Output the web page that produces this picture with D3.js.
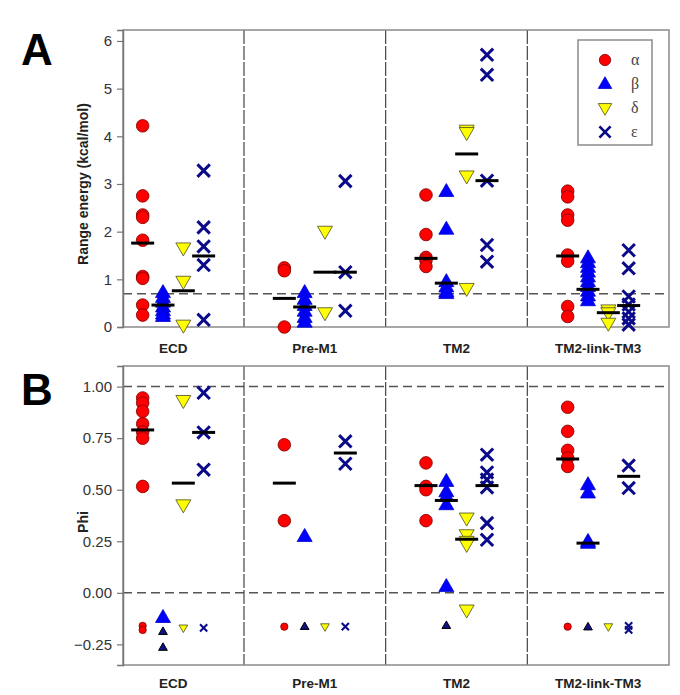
<!DOCTYPE html>
<html><head><meta charset="utf-8">
<script src="https://cdn.jsdelivr.net/npm/d3@7/dist/d3.min.js"></script>
<style>body{margin:0;background:#fff;}svg{display:block;font-family:Arial,"Liberation Sans",sans-serif;}</style>
</head><body><svg id="c" width="680" height="695"></svg>
<script>
const categories = ["ECD", "Pre-M1", "TM2", "TM2-link-TM3"];
const seriesNames = ["α", "β", "δ", "ε"];

// Panel A: range energy (kcal/mol), one list per category
const energyAlpha = [[4.22,2.75,2.35,2.30,1.82,1.06,1.02,0.46,0.25],[1.24,1.18,0.0],[2.77,1.94,1.46,1.40,1.27],[2.85,2.73,2.35,2.24,1.51,1.38,0.43,0.22]];
const energyBeta  = [[0.72,0.62,0.52,0.42,0.34,0.27,0.22],[0.72,0.58,0.45,0.33,0.20,0.10],[2.84,2.05,0.95,0.84,0.74,0.70],[1.45,1.35,1.25,1.15,1.05,0.95,0.85,0.75,0.65,0.55]];
const energyDelta = [[1.66,0.96,0.04],[2.01,0.30],[4.13,4.08,3.17,0.81],[0.36,0.30,0.08]];
const energyEps   = [[3.28,2.09,1.69,1.30,0.15],[3.06,1.15,0.34],[5.71,5.29,3.07,1.72,1.37],[1.61,1.23,0.64,0.47,0.32,0.18,0.05]];
const energyBarAlpha = [1.76,0.60,1.44,1.49];
const energyBarBeta  = [0.46,0.42,0.92,0.79];
const energyBarDelta = [0.76,1.15,3.63,0.30];
const energyBarEps   = [1.49,1.15,3.07,0.45];
const energyThreshold = 0.7;
const energyTicks = [0,1,2,3,4,5,6];

// Panel B: Phi
const phiAlpha = [[0.945,0.92,0.88,0.82,0.78,0.75,0.516],[0.718,0.35],[0.63,0.516,0.50,0.35],[0.90,0.783,0.691,0.654,0.613]];
const phiBeta  = [[-0.12],[0.273],[0.54,0.49,0.467,0.427,0.03],[0.524,0.484,0.249,0.24]];
const phiDelta = [[0.933,0.427],[],[0.363,0.282,0.25,0.235,-0.083],[]];
const phiEps   = [[0.97,0.778,0.597],[0.735,0.626],[0.67,0.584,0.549,0.511,0.338,0.257],[0.617,0.508]];
const phiBarAlpha = [0.79,0.532,0.52,0.649];
const phiBarBeta  = [null,null,0.448,0.241];
const phiBarDelta = [0.532,null,0.26,null];
const phiBarEps   = [0.778,0.678,0.52,0.565];
// small markers (undetermined values) below zero
const phiSmallAlpha = [[-0.16,-0.18],[-0.164],[],[-0.164]];
const phiSmallBeta  = [[-0.188,-0.265],[-0.164],[-0.159],[-0.166]];
const phiSmallDelta = [[-0.17],[-0.164],[],[-0.164]];
const phiSmallEps   = [[-0.17],[-0.164],[],[-0.16,-0.18]];
const phiLines = [1.0, 0.0];
const phiTicks = [-0.25,0,0.25,0.5,0.75,1.0];

const svg = d3.select("#c");
const x = d3.scaleLinear().domain([0.146, 4]).range([123, 669]);
const xPos = (ci, si) => x(ci + 0.5 + (si - 1.5) * 0.1435);

const styles = [
  {type:"circle", fill:"#ff0000", stroke:"#7a0000"},
  {type:"up", fill:"#0000ff", stroke:"#0000cc"},
  {type:"down", fill:"#ffff00", stroke:"#4a4a20"},
  {type:"x", fill:"none", stroke:"#0a0a8a"}
];

function marker(g, st, cx, cy, scale, smallNavy) {
  if (st.type === "circle") {
    g.append("circle").attr("cx", cx).attr("cy", cy).attr("r", 6.3*scale)
      .attr("fill", st.fill).attr("stroke", st.stroke).attr("stroke-width", 0.8);
  } else if (st.type === "up" || st.type === "down") {
    const w = 15*scale, h = 13*scale;
    const s = st.type === "up" ? 1 : -1;
    const p = d3.path();
    p.moveTo(cx, cy - s*h*0.62); p.lineTo(cx + w/2, cy + s*h*0.38); p.lineTo(cx - w/2, cy + s*h*0.38); p.closePath();
    g.append("path").attr("d", p.toString())
      .attr("fill", smallNavy ? "#101080" : st.fill)
      .attr("stroke", smallNavy ? "#000" : st.stroke).attr("stroke-width", smallNavy ? 1 : 0.8);
  } else {
    const r = 6.2*scale;
    g.append("path").attr("d", `M${cx-r},${cy-r}L${cx+r},${cy+r}M${cx-r},${cy+r}L${cx+r},${cy-r}`)
      .attr("stroke", st.stroke).attr("stroke-width", 3*Math.max(scale,0.7)).attr("fill","none");
  }
}

function panel(cfg) {
  const y = d3.scaleLinear().domain(cfg.domain).range([cfg.bottom, cfg.top]);
  const g = svg.append("g");
  cfg.refLines.forEach(v => {
    g.append("line").attr("x1", x(0.146)).attr("x2", x(4)).attr("y1", y(v)).attr("y2", y(v))
      .attr("stroke", "#555").attr("stroke-width", 1.5).attr("stroke-dasharray", "9,5");
  });
  [1,2,3].forEach(v => {
    g.append("line").attr("x1", x(v)).attr("x2", x(v)).attr("y1", cfg.top).attr("y2", cfg.bottom)
      .attr("stroke", "#444").attr("stroke-width", 1.2).attr("stroke-dasharray", "14,2");
  });
  g.append("rect").attr("x", x(0.146)).attr("y", cfg.top).attr("width", x(4)-x(0.146)).attr("height", cfg.bottom-cfg.top)
    .attr("fill", "none").attr("stroke", "#8a8a8a").attr("stroke-width", 1.5);
  const ax = g.append("g").attr("transform", `translate(${x(0.146)},0)`)
    .call(d3.axisLeft(y).tickValues(cfg.ticks).tickFormat(cfg.fmt).tickSize(6).tickPadding(5));
  ax.select(".domain").attr("stroke", "#777").attr("stroke-width", 1.5);
  ax.selectAll(".tick line").attr("stroke", "#777").attr("stroke-width", 1.2);
  ax.selectAll(".tick text").attr("font-size", 15).attr("fill", "#333").attr("font-family", "Arial, 'Liberation Sans', sans-serif");
  g.append("text").attr("transform", `translate(${cfg.titleX},${cfg.titleY}) rotate(-90)`)
    .attr("text-anchor", "middle").attr("font-size", 14).attr("font-weight", "bold").attr("fill", "#222")
    .text(cfg.title);
  categories.forEach((c, i) => {
    g.append("text").attr("x", x(i + 0.5)).attr("y", cfg.labelY).attr("text-anchor", "middle")
      .attr("font-size", 13.5).attr("font-weight", "bold").attr("fill", "#222").text(c);
  });
  g.append("text").attr("x", 21).attr("y", cfg.letterY).attr("font-size", 44).attr("font-weight", "bold")
    .attr("fill", "#000").text(cfg.letter);
  cfg.series.forEach((ser, si) => {
    ser.forEach((vals, ci) => vals.forEach(v => marker(g, styles[si], xPos(ci, si), y(v), 1)));
  });
  if (cfg.small) {
    cfg.small.forEach((ser, si) => {
      ser.forEach((vals, ci) => vals.forEach(v => marker(g, styles[si], xPos(ci, si), y(v), 0.58, si===1)));
    });
  }
  cfg.bars.forEach((ser, si) => {
    ser.forEach((v, ci) => {
      if (v === null) return;
      g.append("line").attr("x1", xPos(ci, si) - 11.5).attr("x2", xPos(ci, si) + 11.5)
        .attr("y1", y(v)).attr("y2", y(v)).attr("stroke", "#000").attr("stroke-width", 3);
    });
  });
  return g;
}

panel({domain:[0, 6.23], top:30, bottom:327, refLines:[energyThreshold], ticks:energyTicks, fmt:d3.format("d"),
  title:"Range energy (kcal/mol)", titleX:88, titleY:184, labelY:353, letter:"A", letterY:65,
  series:[energyAlpha, energyBeta, energyDelta, energyEps],
  bars:[energyBarAlpha, energyBarBeta, energyBarDelta, energyBarEps]});

panel({domain:[-0.35, 1.1], top:366, bottom:665, refLines:phiLines, ticks:phiTicks, fmt:d3.format(".2f"),
  title:"Phi", titleX:88, titleY:522, labelY:688, letter:"B", letterY:405,
  series:[phiAlpha, phiBeta, phiDelta, phiEps],
  small:[phiSmallAlpha, phiSmallBeta, phiSmallDelta, phiSmallEps],
  bars:[phiBarAlpha, phiBarBeta, phiBarDelta, phiBarEps]});

const lg = svg.append("g");
lg.append("rect").attr("x", 578).attr("y", 40).attr("width", 74).attr("height", 105)
  .attr("fill", "#fff").attr("stroke", "#8a8a8a").attr("stroke-width", 1.5);
seriesNames.forEach((n, i) => {
  const yy = 60 + i*24;
  marker(lg, styles[i], 605, yy, 0.9);
  lg.append("text").attr("x", 631).attr("y", yy + 5).attr("font-size", 16)
    .attr("font-family", "'Liberation Serif','DejaVu Serif',serif").attr("fill", "#444").text(n);
});
</script></body></html>
